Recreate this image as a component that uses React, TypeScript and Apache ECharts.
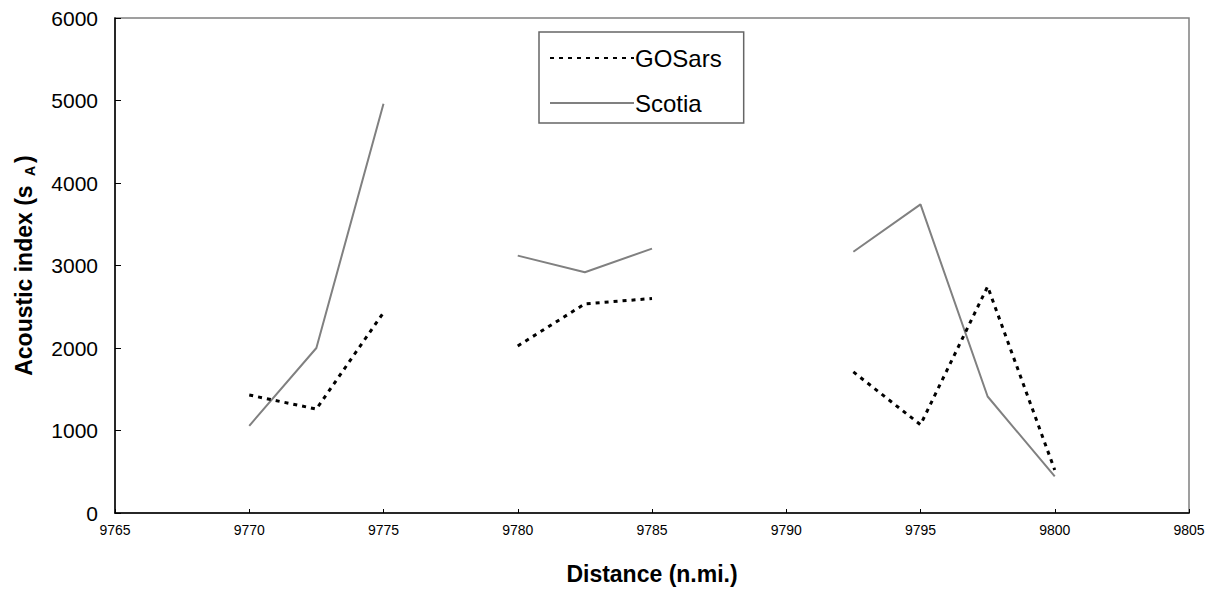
import React, { useEffect, useRef } from "react";
import * as echarts from "echarts";

const distances = [9770, 9772.5, 9775, 9777.5, 9780, 9782.5, 9785, 9787.5, 9790, 9792.5, 9795, 9797.5, 9800];
const gosars = [1430, 1260, 2430, null, 2025, 2535, 2600, null, null, 1710, 1070, 2745, 520];
const scotia = [1057, 2000, 4960, null, 3120, 2918, 3205, null, null, 3167, 3741, 1412, 443];
const seriesNames = ["GOSars", "Scotia"];

const FONT = "Liberation Sans, Arial, sans-serif";

export default function App() {
  const ref = useRef<HTMLDivElement>(null);
  useEffect(() => {
    document.body.style.margin = "0";
    const chart = echarts.init(ref.current!, null, { renderer: "svg" });
    const pair = (arr: (number | null)[]) => distances.map((d, i) => [d, arr[i] === null ? "-" : arr[i]]);
    chart.setOption({
      animation: false,
      backgroundColor: "#ffffff",
      textStyle: { fontFamily: FONT },
      grid: { left: 115, right: 23, top: 18, bottom: 78, show: true, borderColor: "#808080", borderWidth: 1.5 },
      legend: {
        left: 539,
        top: 32,
        orient: "vertical",
        backgroundColor: "#ffffff",
        borderColor: "#666666",
        borderWidth: 1.5,
        padding: [14, 22, 8, 10],
        itemGap: 21,
        itemWidth: 84,
        itemHeight: 24,
        itemStyle: { opacity: 0 },
        textStyle: { fontSize: 24, color: "#000", fontFamily: FONT, padding: [0, 0, 0, -4] },
        data: seriesNames,
      },
      xAxis: {
        type: "value",
        min: 9765,
        max: 9805,
        interval: 5,
        name: "Distance (n.mi.)",
        nameLocation: "middle",
        nameGap: 49,
        nameTextStyle: { fontSize: 23, fontWeight: "bold", color: "#000" },
        axisLine: { lineStyle: { color: "#000", width: 1.5 } },
        axisTick: { inside: true, length: 4, lineStyle: { color: "#000" } },
        axisLabel: { fontSize: 14, color: "#000", margin: 10, formatter: (v: number) => String(v) },
        splitLine: { show: false },
      },
      yAxis: {
        type: "value",
        min: 0,
        max: 6000,
        interval: 1000,
        name: "{t|Acoustic index (s }{sub|A}{t|)}",
        nameLocation: "middle",
        nameGap: 78,
        nameTextStyle: {
          rich: {
            t: { fontSize: 23, fontWeight: "bold", color: "#000", fontFamily: FONT },
            sub: { fontSize: 14, fontWeight: "bold", color: "#000", fontFamily: FONT, padding: [12, 3, 0, 3] },
          },
        },
        axisLine: { show: true, lineStyle: { color: "#000", width: 1.5 } },
        axisTick: { show: true, inside: true, length: 6, lineStyle: { color: "#000" } },
        axisLabel: { fontSize: 21, color: "#000", margin: 17, formatter: (v: number) => String(v) },
        splitLine: { show: false },
      },
      series: [
        {
          name: seriesNames[0],
          type: "line",
          data: pair(gosars),
          symbol: "none",
          connectNulls: false,
          lineStyle: { color: "#000", width: 3, type: [4, 5] },
          itemStyle: { color: "#000" },
          z: 3,
        },
        {
          name: seriesNames[1],
          type: "line",
          data: pair(scotia),
          symbol: "none",
          connectNulls: false,
          lineStyle: { color: "#808080", width: 2 },
          itemStyle: { color: "#808080" },
          z: 2,
        },
      ],
    });
    return () => chart.dispose();
  }, []);
  return <div ref={ref} style={{ width: 1212, height: 591 }} />;
}
